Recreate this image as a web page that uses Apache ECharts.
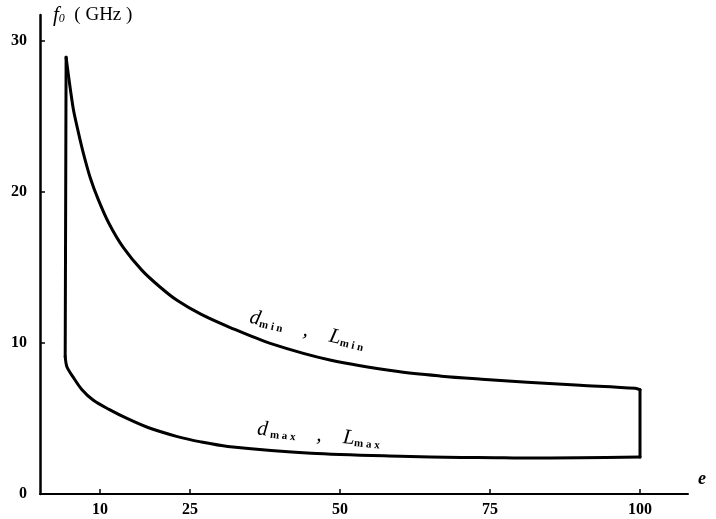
<!DOCTYPE html>
<html>
<head>
<meta charset="utf-8">
<script src="https://cdn.jsdelivr.net/npm/echarts@6/dist/echarts.min.js"></script>
<style>
  html, body { margin: 0; padding: 0; background: #fff; }
  #chart-container { width: 716px; height: 519px; }
</style>
</head>
<body>
<div id="chart-container"></div>
<script>
// d_min, L_min curve (upper)
let upperE = [4.35, 5.5, 6.3, 7.2, 8.4, 9.7, 11.5, 13.9, 17, 20, 22.9, 26.8, 31.8, 38.5, 48.5, 59.7, 66.9, 73.6, 81.2, 90, 99.2, 100];
let upperF = [28.9, 25.6, 24.1, 22.6, 20.9, 19.5, 17.9, 16.3, 14.8, 13.7, 12.8, 11.9, 11.0, 9.95, 8.85, 8.1, 7.8, 7.6, 7.4, 7.2, 7.0, 6.9];
// d_max, L_max curve (lower)
let lowerE = [4.2, 4.5, 5.5, 7, 8.9, 11.5, 14.5, 18, 22.9, 26.8, 31.3, 45.2, 60, 70.2, 75.8, 80, 90, 100];
let lowerF = [9.1, 8.4, 7.75, 6.9, 6.2, 5.6, 5.0, 4.4, 3.8, 3.45, 3.15, 2.7, 2.5, 2.42, 2.4, 2.38, 2.4, 2.45];
// left and right edges
let leftE = [4.2, 4.35];
let leftF = [9.1, 28.9];
let rightE = [100, 100];
let rightF = [6.9, 2.45];

let xTicks = [10, 25, 50, 75, 100];
let yTicks = [0, 10, 20, 30];

let dom = document.getElementById("chart-container");
let myChart = echarts.init(dom, null, { renderer: "canvas" });

const serif = "Liberation Serif";
const pairs = (xs, ys) => xs.map((x, i) => [x, ys[i]]);
const line = (name, xs, ys, smooth) => ({
    name: name,
    type: "line",
    data: pairs(xs, ys),
    showSymbol: false,
    smooth: smooth,
    lineStyle: { color: "#000", width: 3, cap: "round", join: "round" },
});

let option = {
    animation: false,
    backgroundColor: "#fff",
    grid: { left: 40, right: 28, top: 15, bottom: 25 },
    xAxis: {
        type: "value",
        min: 0,
        max: 108,
        name: "e",
        nameLocation: "end",
        nameGap: 10,
        nameTextStyle: {
            fontFamily: serif, fontStyle: "italic", fontWeight: "bold", fontSize: 18,
            color: "#000", align: "left", verticalAlign: "bottom", padding: [0, 0, 6, 0],
        },
        axisLine: { lineStyle: { color: "#000", width: 2 } },
        axisTick: { inside: true, length: 5, customValues: xTicks, lineStyle: { color: "#000", width: 1.5 } },
        axisLabel: {
            customValues: xTicks, margin: 8,
            fontFamily: serif, fontWeight: "bold", fontSize: 16, color: "#000",
        },
        splitLine: { show: false },
    },
    yAxis: {
        type: "value",
        min: 0,
        max: 31.7,
        name: "{f|f}{s|0}{t|  ( GHz )}",
        nameLocation: "end",
        nameGap: 0,
        nameTextStyle: {
            align: "left", verticalAlign: "middle", padding: [0, 0, 0, 13],
            rich: {
                f: { fontFamily: serif, fontStyle: "italic", fontSize: 21, color: "#000" },
                s: { fontFamily: serif, fontStyle: "italic", fontSize: 12, color: "#000", padding: [8, 0, 0, 0] },
                t: { fontFamily: serif, fontSize: 19, color: "#000" },
            },
        },
        axisLine: { lineStyle: { color: "#000", width: 2.5 } },
        axisTick: { inside: true, length: 5, customValues: yTicks, lineStyle: { color: "#000", width: 1.5 } },
        axisLabel: {
            customValues: yTicks, margin: 13,
            fontFamily: serif, fontWeight: "bold", fontSize: 16, color: "#000",
        },
        splitLine: { show: false },
    },
    series: [
        line("upper", upperE, upperF, 0.3),
        line("lower", lowerE, lowerF, 0.3),
        line("left", leftE, leftF, false),
        line("right", rightE, rightF, false),
    ],
};

myChart.setOption(option);

// curve labels, anchored in data coordinates
const rich = {
    it: { fontFamily: serif, fontStyle: "italic", fontSize: 21, fill: "#000" },
    sub: { fontFamily: serif, fontWeight: "bold", fontSize: 11, fill: "#000", padding: [9, 0, 0, 0] },
};
const p1 = myChart.convertToPixel({ gridIndex: 0 }, [35, 11.7]);
const p2 = myChart.convertToPixel({ gridIndex: 0 }, [36.2, 4.3]);
myChart.setOption({
    graphic: [
        {
            type: "text", x: p1[0], y: p1[1], rotation: -0.23,
            style: { text: "{it|d}{sub|m i n}{it|    ,    }{it|L}{sub|m i n}", rich: rich, textVerticalAlign: "middle" },
        },
        {
            type: "text", x: p2[0], y: p2[1], rotation: -0.1,
            style: { text: "{it|d}{sub| m a x}{it|    ,    }{it|L}{sub|m a x}", rich: rich, textVerticalAlign: "middle" },
        },
    ],
});

window.addEventListener("resize", myChart.resize);
</script>
</body>
</html>
